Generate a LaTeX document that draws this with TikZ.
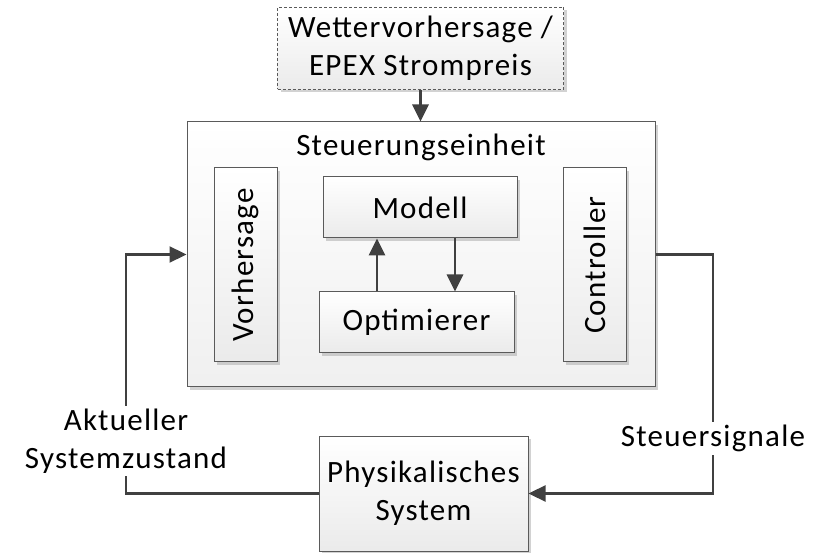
\documentclass[tikz,border=0pt]{standalone}
\usepackage{fontspec}
\setmainfont{Carlito}[LetterSpace=4]
\usetikzlibrary{arrows.meta,positioning,shadows}
\definecolor{CtrlLine}{HTML}{5A5A5A}
\definecolor{CtrlArrow}{HTML}{404040}
\tikzset{
  box/.style={draw=CtrlLine,line width=1pt,top color=white,bottom color=black!8,
    drop shadow={shadow xshift=3pt,shadow yshift=-3pt,fill=black!35,opacity=0.5},
    align=center,inner sep=0pt},
  source/.style={box,dashed,dash pattern=on 3pt off 2pt},
  link/.style={-{Triangle[length=17pt,width=16pt]},line width=2.8pt,draw=CtrlArrow},
  loop/.style={link,line width=2.3pt},
  tag/.style={fill=white,align=center,inner sep=3pt}
}

\begin{document}
\begin{tikzpicture}[x=1pt,y=-1pt,font=\fontsize{31}{38}\selectfont]
  \useasboundingbox (0,0) rectangle (817,553);
  \node[source,minimum width=286pt,minimum height=82pt] (forecast) at (420.5,48.5) {Wettervorhersage /\\EPEX Strompreis};
  \node[box,bottom color=black!6,minimum width=468pt,minimum height=265pt] (unit) at (421,254.5) {};
  \node (title) at (421,147) {Steuerungseinheit};
  \node[box,rotate=90,minimum width=194pt,minimum height=63pt] (pred) at (245.5,265) {Vorhersage};
  \node[box,minimum width=194pt,minimum height=61pt] (model) at (420,207.5) {Modell};
  \node[box,minimum width=195pt,minimum height=61pt] (opt) at (416.5,322.5) {Optimierer};
  \node[box,rotate=90,minimum width=194pt,minimum height=63pt] (ctrl) at (594.5,265) {Controller};
  \node[box,minimum width=209pt,minimum height=115pt] (phys) at (423.5,493.5) {Physikalisches\\System};
  \coordinate (lx) at (126,0);
  \coordinate (rx) at (713,0);
  % data flow
  \draw[link] (forecast.south) -- (forecast.south |- unit.north);
  \draw[link] ([xshift=-39.5pt]opt.north) -- ([xshift=-39.5pt]opt.north |- model.south);
  \draw[link] ([xshift=35pt]model.south) -- ([xshift=35pt]model.south |- opt.north);
  % feedback loop
  \draw[loop] (phys.west) -- (phys.west -| lx) -- node[tag,pos=0.22] {Aktueller\\Systemzustand} (unit.west -| lx) -- (unit.west);
  \draw[loop] (unit.east) -- (unit.east -| rx) -- node[tag,pos=0.77] {Steuersignale} (phys.east -| rx) -- (phys.east);
\end{tikzpicture}
\end{document}
